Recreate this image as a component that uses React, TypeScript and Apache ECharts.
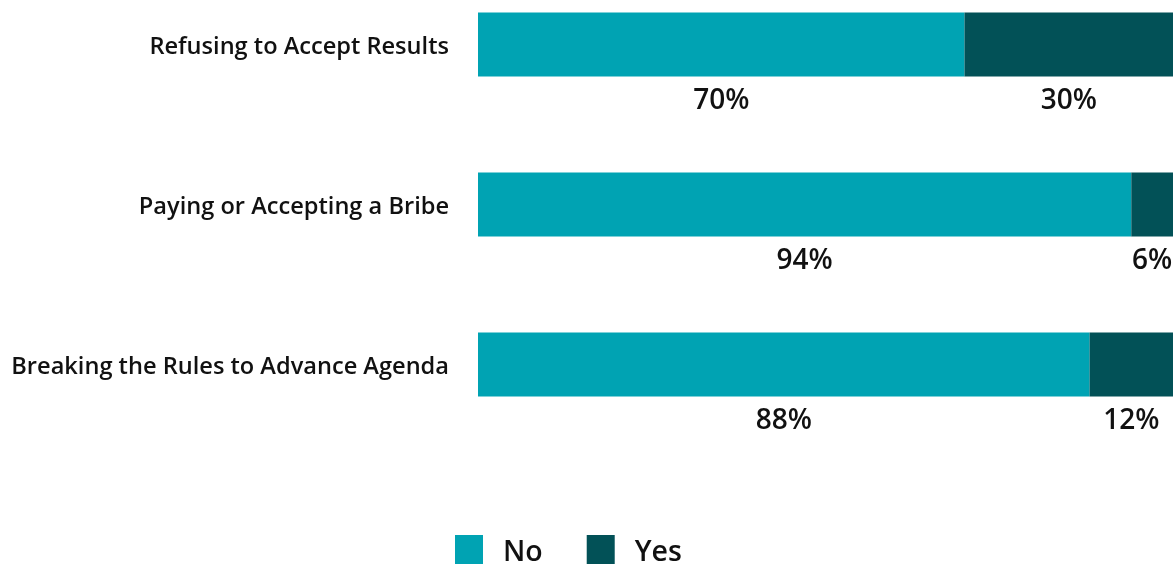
import React, { useEffect, useRef } from "react";
import * as echarts from "echarts";

const categories = [
  "Refusing to Accept Results",
  "Paying or Accepting a Bribe",
  "Breaking the Rules to Advance Agenda",
];
const noValues = [70, 94, 88];
const yesValues = [30, 6, 12];
const seriesNames = ["No", "Yes"];
const colors = ["#00A3B3", "#025157"];

export default function App() {
  const ref = useRef<HTMLDivElement>(null);
  useEffect(() => {
    if (!ref.current) return;
    const chart = echarts.init(ref.current, undefined, { renderer: "svg" });
    const labelStyle = {
      show: true,
      position: "bottom" as const,
      distance: 7,
      fontFamily: "Open Sans",
      fontWeight: 600,
      fontSize: 28,
      color: "#111",
      formatter: (p: any) => p.value + "%",
    };
    chart.setOption({
      animation: false,
      textStyle: { fontFamily: "Open Sans" },
      legend: {
        data: seriesNames,
        top: 535,
        left: 455,
        padding: 0,
        itemWidth: 28,
        itemHeight: 29,
        itemGap: 44,
        icon: "rect",
        textStyle: {
          fontSize: 28.5,
          lineHeight: 29,
          fontWeight: 600,
          color: "#111",
          fontFamily: "Open Sans",
          padding: [0, 0, 0, 15],
        },
      },
      grid: {
        left: 478,
        right: 1,
        top: -35.5,
        height: 480,
        outerBoundsMode: "none",
        containLabel: false,
      },
      xAxis: {
        type: "value",
        min: 0,
        max: 100,
        show: false,
      },
      yAxis: {
        type: "category",
        data: categories,
        inverse: true,
        axisLine: { show: false },
        axisTick: { show: false },
        splitLine: { show: false },
        axisLabel: {
          margin: 29,
          fontFamily: "Open Sans",
          fontWeight: 600,
          fontSize: 23.6,
          color: "#111",
        },
      },
      series: [
        {
          name: seriesNames[0],
          type: "bar",
          stack: "total",
          data: noValues,
          barWidth: 64,
          itemStyle: { color: colors[0] },
          label: labelStyle,
        },
        {
          name: seriesNames[1],
          type: "bar",
          stack: "total",
          data: yesValues,
          barWidth: 64,
          itemStyle: { color: colors[1] },
          label: labelStyle,
        },
      ],
    });
    return () => chart.dispose();
  }, []);
  return (
    <div
      ref={ref}
      style={{ position: "fixed", left: 0, top: 0, width: 1174, height: 569 }}
    />
  );
}
